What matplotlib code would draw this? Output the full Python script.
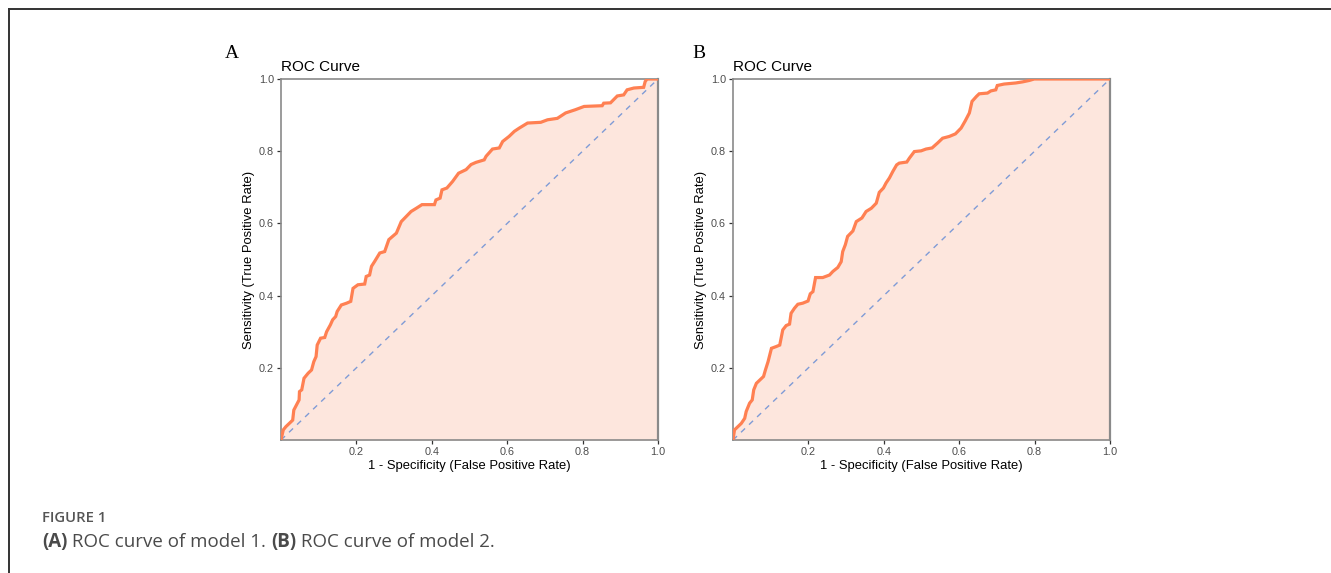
import matplotlib
matplotlib.use("Agg")
import matplotlib.pyplot as plt
from matplotlib.lines import Line2D

# ---------------- DATA ----------------
FPR_A = [0, .006, .013, .031, .034, .041, .048, .049, .055, .061, .072, .081, .087,
         .093, .096, .105, .116, .121, .131, .137, .145, .149, .160, .174, .185,
         .191, .204, .222, .226, .235, .240, .248, .262, .275, .286, .306, .319,
         .332, .345, .359, .374, .407, .411, .422, .427, .440, .455, .471, .491,
         .504, .517, .539, .544, .561, .579, .588, .605, .619, .632, .654, .689,
         .707, .733, .755, .781, .804, .852, .856, .874, .892, .909, .918, .936,
         .962, .966, .971, 1.0]
TPR_A = [0, .028, .037, .055, .083, .097, .111, .134, .139, .171, .185, .194, .217,
         .231, .263, .282, .284, .300, .319, .333, .342, .356, .374, .379, .384,
         .420, .430, .432, .453, .457, .481, .494, .518, .522, .555, .573, .605,
         .619, .633, .642, .652, .652, .665, .670, .693, .698, .716, .739, .749,
         .763, .769, .776, .786, .806, .809, .827, .841, .855, .864, .878, .880,
         .887, .891, .906, .915, .924, .926, .933, .934, .953, .956, .970, .975,
         .977, .993, 1.0, 1.0]

FPR_B = [0, .004, .013, .022, .031, .035, .044, .051, .055, .062, .071, .081, .086,
         .093, .102, .115, .124, .132, .141, .150, .154, .163, .172, .185, .199,
         .205, .212, .219, .238, .256, .265, .278, .287, .291, .298, .304, .318,
         .327, .342, .353, .367, .380, .388, .399, .406, .415, .424, .434, .441,
         .461, .468, .481, .499, .512, .528, .543, .556, .574, .590, .605, .616,
         .627, .634, .646, .653, .675, .684, .697, .701, .719, .750, .768, .786,
         .799, 1.0]
TPR_B = [0, .028, .037, .046, .060, .079, .102, .111, .139, .157, .166, .176, .194,
         .217, .254, .259, .263, .305, .317, .321, .351, .365, .376, .379, .385,
         .405, .411, .450, .450, .457, .467, .478, .494, .522, .541, .564, .579,
         .605, .615, .633, .642, .656, .686, .698, .712, .726, .744, .762, .767,
         .770, .781, .799, .801, .806, .809, .823, .836, .841, .848, .864, .884,
         .906, .938, .952, .959, .961, .967, .970, .982, .986, .989, .992, .996,
         1.0, 1.0]

TICKS = [0.2, 0.4, 0.6, 0.8, 1.0]
TICK_LABELS = ["0.2", "0.4", "0.6", "0.8", "1.0"]
PANELS = [("A", FPR_A, TPR_A), ("B", FPR_B, TPR_B)]
# --------------------------------------

LINE_COL = "#FF8052"
FILL_COL = "#FDE6DD"
DIAG_COL = "#7F9BD6"
AX_COL = "#8a8a8a"

plt.rcParams["font.family"] = ["Liberation Sans", "DejaVu Sans"]

fig = plt.figure(figsize=(13.31, 5.73), dpi=100)

# page frame (top + left rule)
fig.add_artist(Line2D([9 / 1331, 1], [1 - 9 / 573, 1 - 9 / 573], color="#333333", lw=1.4))
fig.add_artist(Line2D([9 / 1331, 9 / 1331], [0, 1 - 9 / 573], color="#333333", lw=1.4))

lefts = [281 / 1331, 733 / 1331]
letter_x = [225 / 1331, 692 / 1331]
for (letter, fpr, tpr), left, lx in zip(PANELS, lefts, letter_x):
    ax = fig.add_axes([left, 133 / 573, 377 / 1331, 361 / 573])
    ax.fill_between(fpr, tpr, 0, color=FILL_COL, lw=0, zorder=1)
    ax.plot([0, 1], [0, 1], ls=(0, (4, 4)), color=DIAG_COL, lw=1.0, zorder=2)
    ax.plot(fpr, tpr, color=LINE_COL, lw=2.3, solid_joinstyle="miter", zorder=3)
    ax.set_xlim(0, 1)
    ax.set_ylim(0, 1)
    ax.set_xticks(TICKS)
    ax.set_xticklabels(TICK_LABELS)
    ax.set_yticks(TICKS)
    ax.set_yticklabels(TICK_LABELS)
    ax.tick_params(length=3, width=0.9, color="#333333", labelsize=7.8,
                   labelcolor="#4d4d4d", pad=2)
    for sp in ax.spines.values():
        sp.set_color(AX_COL)
        sp.set_linewidth(1.2)
    ax.spines["right"].set_linewidth(1.6)
    ax.set_xlabel("1 - Specificity (False Positive Rate)", fontsize=9.4, labelpad=2)
    ax.set_ylabel("Sensitivity (True Positive Rate)", fontsize=9.4, labelpad=3)
    ax.set_title("ROC Curve", loc="left", fontsize=11, pad=6)
    fig.text(lx, 1 - 54 / 573, letter, fontsize=14,
             family="Liberation Serif", va="center", ha="left")

# caption
fig.text(42 / 1331, 1 - 518 / 573, "FIGURE 1", fontsize=10.7, color="#555555",
         family=["Open Sans", "DejaVu Sans"], weight="semibold", va="center")

parts = [("(A)", "bold"), (" ROC curve of model 1. ", "normal"),
         ("(B)", "bold"), (" ROC curve of model 2.", "normal")]
renderer = fig.canvas.get_renderer()
x = 42 / 1331
for txt, wt in parts:
    t = fig.text(x, 1 - 542 / 573, txt, fontsize=13.5, color="#4a4a4a",
                 family=["Open Sans", "DejaVu Sans"], weight=wt, va="center")
    bb = t.get_window_extent(renderer=renderer)
    x += bb.width / fig.bbox.width

fig.savefig("out.png", dpi=100)
